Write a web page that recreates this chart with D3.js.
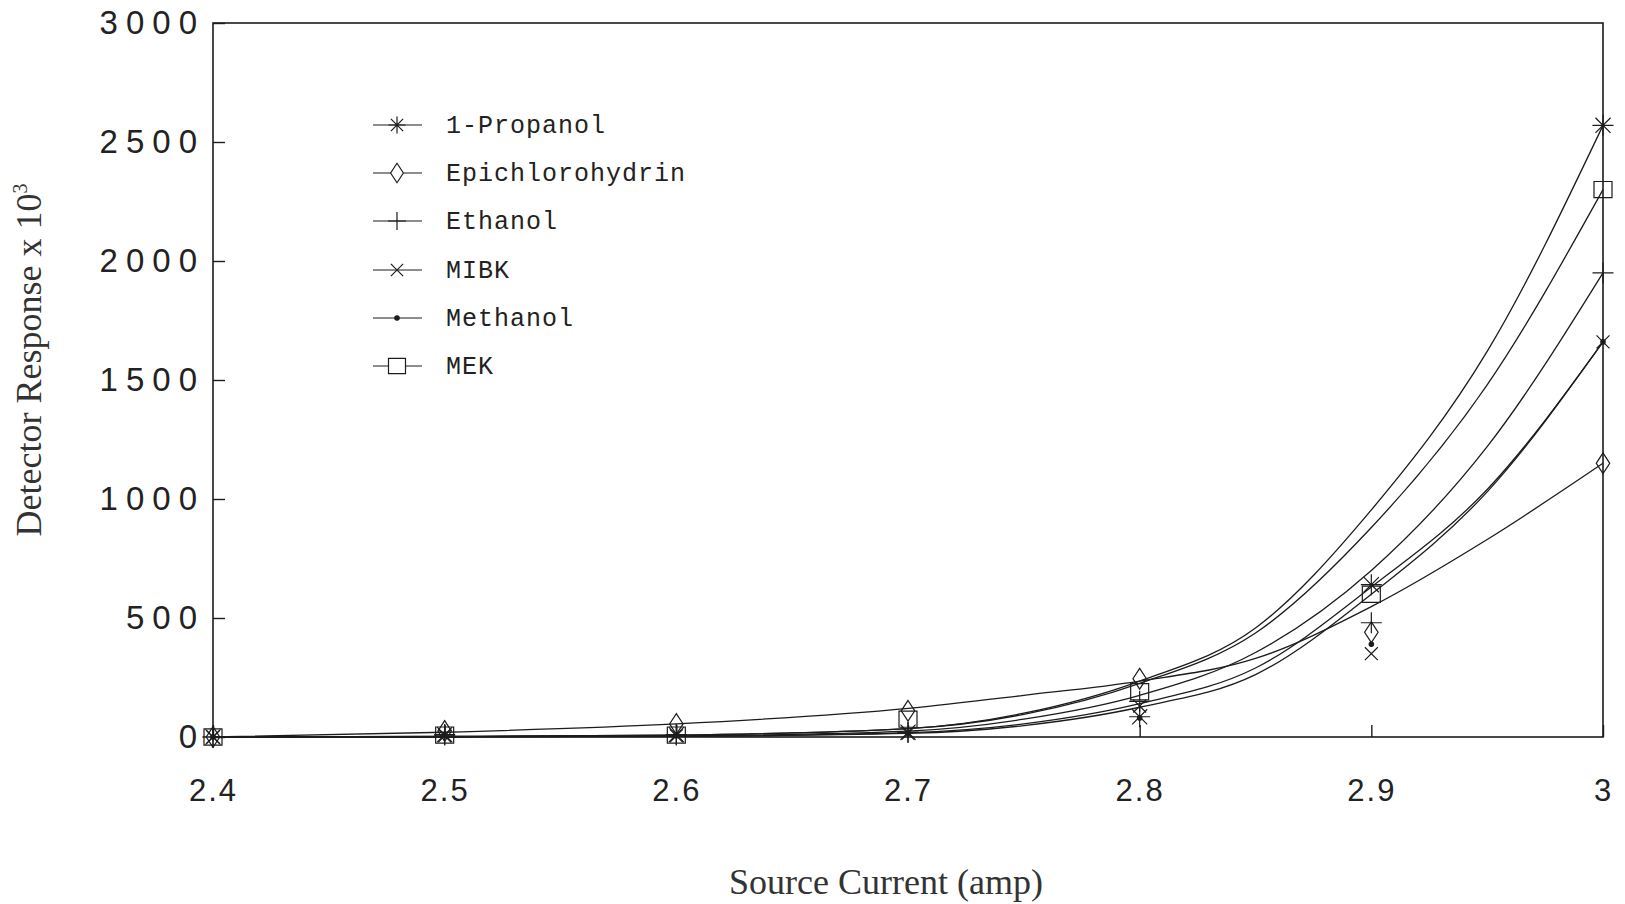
<!DOCTYPE html>
<html>
<head>
<meta charset="utf-8">
<script src="https://cdn.jsdelivr.net/npm/d3@7"></script>
<style>
  html, body { margin: 0; padding: 0; background: #fff; }
  svg { display: block; }
</style>
</head>
<body>
<svg id="chart" width="1625" height="904"></svg>
<script>
// ---------------- data ----------------
const seriesNames = ["1-Propanol", "Epichlorohydrin", "Ethanol", "MIBK", "Methanol", "MEK"];
const markerTypes = ["asterisk", "diamond", "plus", "cross", "dot", "square"];

// measured points (Detector Response x 10^3) at each source current
const currents = [2.4, 2.5, 2.6, 2.7, 2.8, 2.9, 3.0];
const propanolPts = [0, 10, 10, 20, 85, 640, 2570];
const epiPts      = [0, 25, 55, 110, 245, 440, 1150];
const ethanolPts  = [0, 8, 8, 20, 150, 480, 1950];
const mibkPts     = [0, 5, 5, 15, 130, 350, 1660];
const methanolPts = [0, 5, 5, 15, 80, 390, 1660];
const mekPts      = [0, 8, 8, 75, 190, 600, 2300];

// fitted (smoothed) curves
const fitCurrents = [2.4, 2.5, 2.6, 2.7, 2.75, 2.8, 2.85, 2.9, 2.95, 3.0];
const propanolFit = [0, 2, 8, 35, 100, 235, 458, 954, 1620, 2570];
const epiFit      = [0, 20, 55, 120, 175, 235, 330, 548, 830, 1150];
const ethanolFit  = [0, 1, 5, 25, 75, 175, 355, 700, 1220, 1950];
const mibkFit     = [0, 1, 3, 18, 55, 140, 290, 630, 1040, 1660];
const methanolFit = [0, 1, 3, 15, 48, 125, 262, 600, 1030, 1660];
const mekFit      = [0, 2, 8, 35, 95, 225, 437, 880, 1480, 2300];

const yTicks = [0, 500, 1000, 1500, 2000, 2500, 3000];
const xTicks = [2.4, 2.5, 2.6, 2.7, 2.8, 2.9, 3.0];
const yTitle = "Detector Response x 10";
const xTitle = "Source Current (amp)";

// ---------------- build ----------------
const pts = [propanolPts, epiPts, ethanolPts, mibkPts, methanolPts, mekPts];
const fits = [propanolFit, epiFit, ethanolFit, mibkFit, methanolFit, mekFit];
const series = seriesNames.map((n, i) => ({
  name: n, marker: markerTypes[i],
  points: currents.map((c, j) => ({x: c, y: pts[i][j]})),
  fit: fitCurrents.map((c, j) => ({x: c, y: fits[i][j]}))
}));

const L = 213, R = 1603, T = 23, B = 737;
const ink = "#1c1c1c";
const svg = d3.select("#chart");
const x = d3.scaleLinear().domain([2.4, 3.0]).range([L, R]);
const y = d3.scaleLinear().domain([0, 3000]).range([B, T]);

function markerPath(type, s) {
  const h = s / 2;
  const d = h * 0.72;
  switch (type) {
    case "asterisk":
      return `M${-h},0H${h}M0,${-h}V${h}M${-d},${-d}L${d},${d}M${-d},${d}L${d},${-d}`;
    case "diamond":
      return `M0,${-h * 1.15}L${h * 0.75},0L0,${h * 1.15}L${-h * 0.75},0Z`;
    case "plus":
      return `M${-h},0H${h}M0,${-h}V${h}`;
    case "cross":
      return `M${-d},${-d}L${d},${d}M${-d},${d}L${d},${-d}`;
    case "dot":
      return `M-2.2,0A2.2,2.2 0 1,0 2.2,0A2.2,2.2 0 1,0 -2.2,0Z`;
    case "square":
      return `M${-h},${-h * 0.9}H${h}V${h * 0.9}H${-h}Z`;
  }
}

// frame
svg.append("rect").attr("x", L).attr("y", T).attr("width", R - L).attr("height", B - T)
  .attr("fill", "none").attr("stroke", ink).attr("stroke-width", 1.6);

// axes
const yAxis = d3.axisLeft(y).tickValues(yTicks).tickSizeInner(-12).tickSizeOuter(0)
  .tickPadding(14).tickFormat(d3.format("d"));
const gy = svg.append("g").attr("transform", `translate(${L},0)`).call(yAxis);
gy.select(".domain").remove();
gy.selectAll("line").attr("stroke", ink).attr("stroke-width", 1.4);
gy.selectAll("text").attr("font-family", "Liberation Sans, Arial, sans-serif")
  .attr("font-size", 33).attr("fill", "#222").attr("letter-spacing", "8px")
  .attr("dx", "6px");

const xAxis = d3.axisBottom(x).tickValues(xTicks).tickSizeInner(-12).tickSizeOuter(0)
  .tickPadding(42).tickFormat(d => d3.format("")(d));
const gx = svg.append("g").attr("transform", `translate(0,${B})`).call(xAxis);
gx.select(".domain").remove();
gx.selectAll("line").attr("stroke", ink).attr("stroke-width", 1.4);
gx.selectAll("text").attr("font-family", "Liberation Sans, Arial, sans-serif")
  .attr("font-size", 31).attr("fill", "#222").attr("letter-spacing", "2px");

// fitted curves
const line = d3.line().x(d => x(d.x)).y(d => y(d.y)).curve(d3.curveMonotoneX);
svg.append("g").selectAll("path").data(series).join("path")
  .attr("d", d => line(d.fit))
  .attr("fill", "none").attr("stroke", ink).attr("stroke-width", 1.3);

// markers
const mg = svg.append("g");
series.forEach(s => {
  mg.selectAll(null).data(s.points).join("path")
    .attr("transform", d => `translate(${x(d.x)},${y(d.y)})`)
    .attr("d", markerPath(s.marker, s.marker === "asterisk" || s.marker === "plus" ? 21 : 18))
    .attr("fill", s.marker === "dot" ? ink : "none")
    .attr("stroke", ink).attr("stroke-width", 1.2);
});

// legend
const legendRows = [125, 173, 221, 270, 318, 366];
const lg = svg.append("g");
series.forEach((s, i) => {
  const ly = legendRows[i];
  lg.append("line").attr("x1", 373).attr("x2", 422).attr("y1", ly).attr("y2", ly)
    .attr("stroke", ink).attr("stroke-width", 1.2);
  lg.append("path").attr("transform", `translate(397,${ly})`)
    .attr("d", markerPath(s.marker, s.marker === "plus" ? 18 : 17))
    .attr("fill", s.marker === "dot" ? ink : "white")
    .attr("stroke", ink).attr("stroke-width", 1.2);
  lg.append("text").attr("x", 446).attr("y", ly + 8)
    .attr("font-family", "Liberation Mono, DejaVu Sans Mono, monospace")
    .attr("font-size", 25).attr("letter-spacing", "1px").attr("fill", "#222")
    .text(s.name);
});

// axis titles
const yt = svg.append("text")
  .attr("transform", "translate(41,360) rotate(-90)")
  .attr("text-anchor", "middle")
  .attr("font-family", "Liberation Serif, Times New Roman, serif")
  .attr("font-size", 36).attr("fill", "#333");
yt.append("tspan").text(yTitle);
yt.append("tspan").attr("font-size", 20).attr("dy", "-14").text("3");

svg.append("text").attr("x", 886).attr("y", 894).attr("text-anchor", "middle")
  .attr("font-family", "Liberation Serif, Times New Roman, serif")
  .attr("font-size", 36).attr("fill", "#333").text(xTitle);
</script>
</body>
</html>
